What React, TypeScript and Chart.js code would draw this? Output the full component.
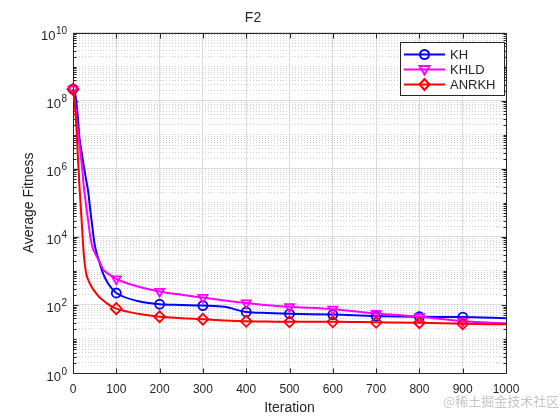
import React, { useEffect, useRef } from 'react';
import { Chart, registerables } from 'chart.js';

Chart.register(...registerables);

const TITLE = 'F2';
const X_LABEL = 'Iteration';
const Y_LABEL = 'Average Fitness';
const WATERMARK = '@稀土掘金技术社区';

const iterations = [0, 5, 10, 15, 20, 25, 30, 35, 40, 45, 50, 60, 70, 80, 90, 100, 150, 200, 250, 300, 350, 400, 450, 500, 600, 700, 800, 900, 1000];
const khValues = [2.2e8, 1.6e8, 5e7, 8e6, 3e6, 1.2e6, 5e5, 2.2e5, 6e4, 1.8e4, 6e3, 2e3, 800, 450, 300, 225, 130, 105, 100, 96, 88, 62, 58, 55, 52, 47, 45, 44, 41];
const khldValues = [2.2e8, 8e7, 2e7, 5e6, 1.5e6, 3e5, 9e4, 3e4, 1e4, 5e3, 3.5e3, 2e3, 1.1e3, 850, 700, 580, 350, 250, 200, 165, 135, 115, 98, 88, 75, 56, 45, 33, 29];
const anrkhValues = [2.2e8, 6e7, 5e6, 3e5, 3e4, 3e3, 900, 550, 400, 310, 250, 175, 135, 108, 90, 78, 55, 45, 41, 38, 35, 33, 32.5, 32, 32, 31, 30, 28, 27];

const seriesLabels = ['KH', 'KHLD', 'ANRKH'];
const seriesColors = ['#0000ff', '#ff00ff', '#ff0000'];
const markerIterations = [0, 100, 200, 300, 400, 500, 600, 700, 800, 900];
const xTickValues = [0, 100, 200, 300, 400, 500, 600, 700, 800, 900, 1000];
const yMajorExponents = [0, 2, 4, 6, 8, 10];

const FONT = "'Liberation Sans', Arial, sans-serif";
const TEXT = '#262626';

const yMinorValues: number[] = [];
for (let e = 0; e < 10; e++) {
  for (let k = 1; k <= 9; k++) yMinorValues.push(k * Math.pow(10, e));
}
yMinorValues.push(1e10);
const yMajorValues = yMajorExponents.map((e) => Math.pow(10, e));

function drawMarker(ctx: CanvasRenderingContext2D, kind: number, cx: number, cy: number) {
  ctx.beginPath();
  if (kind === 0) {
    ctx.arc(cx, cy, 4.5, 0, Math.PI * 2);
  } else if (kind === 1) {
    ctx.moveTo(cx - 5, cy - 3.5);
    ctx.lineTo(cx + 5, cy - 3.5);
    ctx.lineTo(cx, cy + 5);
    ctx.closePath();
  } else {
    ctx.moveTo(cx, cy - 5.5);
    ctx.lineTo(cx + 5, cy);
    ctx.lineTo(cx, cy + 5.5);
    ctx.lineTo(cx - 5, cy);
    ctx.closePath();
  }
  ctx.stroke();
}

const framePlugin = {
  id: 'frame',
  beforeDatasetsDraw(chart: any) {
    const { ctx, chartArea: a, scales } = chart;
    const x = scales.x;
    const y = scales.y;
    ctx.save();
    ctx.strokeStyle = TEXT;
    ctx.lineWidth = 1;
    const L = Math.round(a.left) + 0.5;
    const R = Math.round(a.right) + 0.5;
    const T = Math.round(a.top) + 0.5;
    const B = Math.round(a.bottom) + 0.5;
    ctx.beginPath();
    ctx.rect(L, T, R - L, B - T);
    ctx.stroke();
    ctx.beginPath();
    xTickValues.forEach((v) => {
      const px = Math.round(x.getPixelForValue(v)) + 0.5;
      ctx.moveTo(px, B);
      ctx.lineTo(px, B - 5);
      ctx.moveTo(px, T);
      ctx.lineTo(px, T + 5);
    });
    yMinorValues.forEach((v) => {
      const py = Math.round(y.getPixelForValue(v)) + 0.5;
      const len = yMajorValues.includes(v) ? 5 : 3;
      ctx.moveTo(L, py);
      ctx.lineTo(L + len, py);
      ctx.moveTo(R, py);
      ctx.lineTo(R - len, py);
    });
    ctx.stroke();
    ctx.restore();
  },
  afterDraw(chart: any) {
    const { ctx, chartArea: a, scales } = chart;
    const y = scales.y;
    ctx.save();
    ctx.fillStyle = TEXT;
    yMajorExponents.forEach((e) => {
      const py = y.getPixelForValue(Math.pow(10, e));
      const exp = String(e);
      const right = a.left - 6;
      ctx.font = `10px ${FONT}`;
      const ew = ctx.measureText(exp).width;
      ctx.textAlign = 'left';
      ctx.textBaseline = 'alphabetic';
      ctx.fillText(exp, right - ew, py + 1.5);
      ctx.font = `13px ${FONT}`;
      ctx.textAlign = 'right';
      ctx.fillText('10', right - ew - 0.5, py + 7.5);
    });

    // legend
    const bx = 400.5, by = 42.5, bw = 104, bh = 53;
    ctx.fillStyle = '#ffffff';
    ctx.fillRect(bx, by, bw, bh);
    ctx.strokeStyle = TEXT;
    ctx.lineWidth = 1;
    ctx.strokeRect(bx, by, bw, bh);
    seriesLabels.forEach((label, i) => {
      const ry = 54.5 + i * 15;
      ctx.strokeStyle = seriesColors[i];
      ctx.lineWidth = 2;
      ctx.beginPath();
      ctx.moveTo(404, ry);
      ctx.lineTo(445, ry);
      ctx.stroke();
      drawMarker(ctx, i, 424.5, ry);
      ctx.fillStyle = TEXT;
      ctx.font = `13px ${FONT}`;
      ctx.textAlign = 'left';
      ctx.textBaseline = 'middle';
      ctx.fillText(label, 450, ry + 0.5);
    });

    ctx.fillStyle = 'rgba(150,150,150,0.55)';
    ctx.font = `13px 'Noto Sans CJK SC', sans-serif`;
    ctx.textAlign = 'left';
    ctx.textBaseline = 'middle';
    ctx.fillText(WATERMARK, 443, 401);
    ctx.restore();
  },
};

export default function App() {
  const canvasRef = useRef<HTMLCanvasElement>(null);

  useEffect(() => {
    const canvas = canvasRef.current;
    if (!canvas) return;
    const seriesValues = [khValues, khldValues, anrkhValues];
    const pointStyles = ['circle', 'triangle', 'rectRot'];
    const pointSizes = [4.5, 5.2, 5.5];
    const datasets = seriesValues.map((vals, i) => ({
      label: seriesLabels[i],
      data: iterations.map((it, j) => ({ x: it, y: vals[j] })),
      borderColor: seriesColors[i],
      backgroundColor: seriesColors[i],
      borderWidth: 2,
      cubicInterpolationMode: 'monotone',
      pointStyle: pointStyles[i],
      pointRotation: i === 1 ? 180 : 0,
      pointRadius: (c: any) => (markerIterations.includes(iterations[c.dataIndex]) ? pointSizes[i] : 0),
      pointHoverRadius: 0,
      pointBackgroundColor: 'rgba(0,0,0,0)',
      pointBorderColor: seriesColors[i],
      pointBorderWidth: 1.8,
      clip: false as any,
      order: 2 - i,
    }));

    const chart = new Chart(canvas, {
      type: 'line',
      data: { datasets },
      options: {
        animation: false,
        responsive: false,
        devicePixelRatio: 1,
        layout: { padding: { left: 0, right: 54, top: 0, bottom: 0 } },
        plugins: {
          legend: { display: false },
          tooltip: { enabled: false },
          title: {
            display: true,
            text: TITLE,
            color: TEXT,
            font: { family: FONT, size: 14, weight: 'normal' },
            padding: { top: 10, bottom: 6 },
          },
        },
        scales: {
          x: {
            type: 'linear',
            min: 0,
            max: 1000,
            afterBuildTicks: (s: any) => {
              s.ticks = xTickValues.map((v) => ({ value: v }));
            },
            afterFit: (s: any) => {
              s.height = 47;
            },
            ticks: {
              color: TEXT,
              font: { family: FONT, size: 12 },
              padding: 9,
              maxRotation: 0,
              autoSkip: false,
              callback: (v: any) => String(v),
            },
            grid: { color: '#dcdcdc', drawTicks: false, lineWidth: 1 },
            border: { display: false },
            title: {
              display: true,
              text: X_LABEL,
              color: TEXT,
              font: { family: FONT, size: 14 },
              padding: { top: 0, bottom: 3.6 },
            },
          },
          y: {
            type: 'logarithmic',
            position: 'left',
            min: 1,
            max: 1e10,
            afterBuildTicks: (s: any) => {
              s.ticks = yMinorValues.map((v) => ({ value: v }));
            },
            afterFit: (s: any) => {
              s.width = 73;
            },
            ticks: { display: false },
            grid: { color: '#d0d0d0', drawTicks: false, lineWidth: 1 },
            border: { display: false, dash: [1, 2] },
            title: {
              display: true,
              text: Y_LABEL,
              color: TEXT,
              font: { family: FONT, size: 14 },
              padding: { top: 21, bottom: 0 },
            },
          },
          y2: {
            type: 'logarithmic',
            position: 'left',
            min: 1,
            max: 1e10,
            afterBuildTicks: (s: any) => {
              s.ticks = yMajorValues.map((v) => ({ value: v }));
            },
            afterFit: (s: any) => {
              s.width = 0;
            },
            ticks: { display: false },
            grid: { color: '#dcdcdc', drawTicks: false, lineWidth: 1 },
            border: { display: false },
          },
        },
      } as any,
      plugins: [framePlugin],
    });
    return () => chart.destroy();
  }, []);

  return (
    <div style={{ position: 'absolute', left: 0, top: 0, width: 560, height: 420, background: '#fff' }}>
      <canvas ref={canvasRef} width={560} height={420} style={{ width: 560, height: 420, display: 'block' }} />
    </div>
  );
}
